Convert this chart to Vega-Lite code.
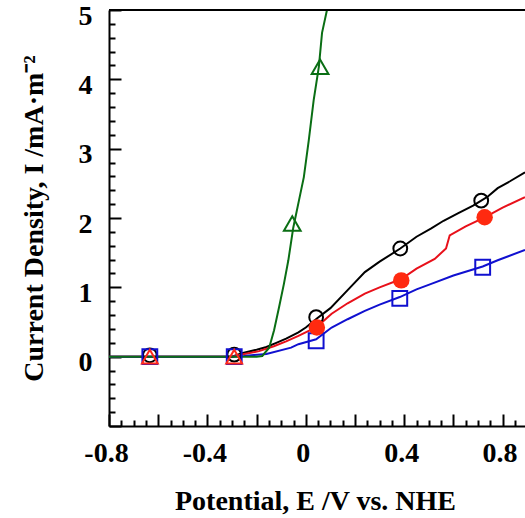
{
  "$schema": "https://vega.github.io/schema/vega-lite/v6.json",
  "width": 416,
  "height": 416,
  "autosize": "none",
  "padding": {"left": 109, "top": 10, "right": 0, "bottom": 92},
  "background": "white",
  "config": {
    "view": {"stroke": null},
    "font": "Liberation Serif",
    "axis": {
      "grid": false, "tickColor": "black", "tickWidth": 2, "domainColor": "black", "domainWidth": 2,
      "labelFont": "Liberation Serif", "labelFontWeight": "bold", "labelFontSize": 28, "labelColor": "black",
      "labelOverlap": false, "labelFlush": false, "labelBound": false, "tickCount": 1000,
      "titleFont": "Liberation Serif", "titleFontWeight": "bold", "titleFontSize": 28, "titleColor": "black"
    }
  },
  "resolve": {"axis": {"x": "independent", "y": "independent"}},
  "datasets": {
    "lines": [
      {"s": "A", "x": -0.8, "y": 0}, {"s": "A", "x": -0.3, "y": 0}, {"s": "A", "x": -0.26, "y": 0.05}, {"s": "A", "x": -0.2, "y": 0.1},
      {"s": "A", "x": -0.16, "y": 0.14}, {"s": "A", "x": -0.12, "y": 0.2}, {"s": "A", "x": -0.08, "y": 0.26}, {"s": "A", "x": -0.03, "y": 0.35},
      {"s": "A", "x": 0, "y": 0.42}, {"s": "A", "x": 0.045, "y": 0.55}, {"s": "A", "x": 0.1, "y": 0.7}, {"s": "A", "x": 0.17, "y": 0.96},
      {"s": "A", "x": 0.24, "y": 1.22}, {"s": "A", "x": 0.3, "y": 1.37}, {"s": "A", "x": 0.384, "y": 1.56}, {"s": "A", "x": 0.45, "y": 1.73},
      {"s": "A", "x": 0.51, "y": 1.85}, {"s": "A", "x": 0.56, "y": 1.96}, {"s": "A", "x": 0.62, "y": 2.07}, {"s": "A", "x": 0.68, "y": 2.18},
      {"s": "A", "x": 0.713, "y": 2.25}, {"s": "A", "x": 0.74, "y": 2.31}, {"s": "A", "x": 0.78, "y": 2.43}, {"s": "A", "x": 0.83, "y": 2.53},
      {"s": "A", "x": 0.891, "y": 2.66},
      {"s": "B", "x": -0.8, "y": 0}, {"s": "B", "x": -0.3, "y": 0}, {"s": "B", "x": -0.26, "y": 0.03}, {"s": "B", "x": -0.19, "y": 0.08},
      {"s": "B", "x": -0.13, "y": 0.15}, {"s": "B", "x": -0.08, "y": 0.22}, {"s": "B", "x": -0.03, "y": 0.3}, {"s": "B", "x": 0.045, "y": 0.43},
      {"s": "B", "x": 0.105, "y": 0.62}, {"s": "B", "x": 0.17, "y": 0.77}, {"s": "B", "x": 0.24, "y": 0.91}, {"s": "B", "x": 0.3, "y": 1.0},
      {"s": "B", "x": 0.388, "y": 1.12}, {"s": "B", "x": 0.45, "y": 1.27}, {"s": "B", "x": 0.524, "y": 1.41}, {"s": "B", "x": 0.57, "y": 1.56},
      {"s": "B", "x": 0.585, "y": 1.75}, {"s": "B", "x": 0.65, "y": 1.88}, {"s": "B", "x": 0.727, "y": 2.01}, {"s": "B", "x": 0.8, "y": 2.15},
      {"s": "B", "x": 0.891, "y": 2.3},
      {"s": "C", "x": -0.8, "y": 0}, {"s": "C", "x": -0.3, "y": 0}, {"s": "C", "x": -0.25, "y": 0.01}, {"s": "C", "x": -0.16, "y": 0.04},
      {"s": "C", "x": -0.06, "y": 0.13}, {"s": "C", "x": -0.03, "y": 0.18}, {"s": "C", "x": 0.042, "y": 0.25}, {"s": "C", "x": 0.105, "y": 0.42},
      {"s": "C", "x": 0.17, "y": 0.54}, {"s": "C", "x": 0.24, "y": 0.66}, {"s": "C", "x": 0.3, "y": 0.75}, {"s": "C", "x": 0.382, "y": 0.86},
      {"s": "C", "x": 0.45, "y": 0.97}, {"s": "C", "x": 0.51, "y": 1.05}, {"s": "C", "x": 0.6, "y": 1.17}, {"s": "C", "x": 0.719, "y": 1.3},
      {"s": "C", "x": 0.78, "y": 1.39}, {"s": "C", "x": 0.891, "y": 1.54},
      {"s": "D", "x": -0.8, "y": 0}, {"s": "D", "x": -0.2, "y": 0}, {"s": "D", "x": -0.177, "y": 0.01}, {"s": "D", "x": -0.149, "y": 0.13},
      {"s": "D", "x": -0.129, "y": 0.38}, {"s": "D", "x": -0.109, "y": 0.71}, {"s": "D", "x": -0.089, "y": 1.05}, {"s": "D", "x": -0.071, "y": 1.39},
      {"s": "D", "x": -0.051, "y": 1.86}, {"s": "D", "x": -0.028, "y": 2.25}, {"s": "D", "x": -0.008, "y": 2.59}, {"s": "D", "x": 0.012, "y": 3.12},
      {"s": "D", "x": 0.032, "y": 3.7}, {"s": "D", "x": 0.053, "y": 4.18}, {"s": "D", "x": 0.066, "y": 4.67}, {"s": "D", "x": 0.086, "y": 5.0},
      {"s": "D", "x": 0.095, "y": 5.2}
    ],
    "open": [
      {"s": "A", "x": -0.634, "y": 0.02}, {"s": "A", "x": -0.291, "y": 0.03}, {"s": "A", "x": 0.042, "y": 0.57}, {"s": "A", "x": 0.384, "y": 1.56}, {"s": "A", "x": 0.713, "y": 2.25},
      {"s": "C", "x": -0.634, "y": 0}, {"s": "C", "x": -0.291, "y": 0}, {"s": "C", "x": 0.042, "y": 0.23}, {"s": "C", "x": 0.382, "y": 0.84}, {"s": "C", "x": 0.719, "y": 1.29},
      {"s": "E", "x": -0.634, "y": 0}, {"s": "E", "x": -0.291, "y": 0},
      {"s": "D", "x": -0.055, "y": 1.92}, {"s": "D", "x": 0.058, "y": 4.18}
    ],
    "filled": [
      {"s": "B", "x": 0.045, "y": 0.42}, {"s": "B", "x": 0.388, "y": 1.1}, {"s": "B", "x": 0.727, "y": 2.01}
    ],
    "frame": [{"t": 5}]
  },
  "layer": [
    {
      "data": {"name": "lines"},
      "mark": {"type": "line", "strokeWidth": 2, "clip": true},
      "encoding": {
        "x": {
          "field": "x", "type": "quantitative",
          "scale": {"domain": [-0.8, 0.891], "nice": false, "zero": false},
          "axis": {
            "orient": "bottom",
            "values": [-0.8, -0.6, -0.4, -0.2, 0, 0.2, 0.4, 0.6, 0.8],
            "tickSize": -12,
            "labelExpr": "abs(datum.value*2.5 - round(datum.value*2.5)) < 0.000001 ? toString(datum.value) : ''",
            "labelPadding": 25, "labelOffset": -3,
            "title": "Potential, E /V vs. NHE",
            "titleBaseline": "alphabetic", "titleX": 206, "titleY": 83, "titleAlign": "center"
          }
        },
        "y": {
          "field": "y", "type": "quantitative",
          "scale": {"domain": [-1, 5], "nice": false, "zero": false},
          "axis": {
            "orient": "left",
            "values": [-1, 0, 1, 2, 3, 4, 5],
            "tickSize": -12,
            "labelExpr": "datum.value > -0.5 ? toString(datum.value) : ''",
            "labelPadding": 29, "labelOffset": 6,
            "title": "Current Density, I /mA·m⁻²",
            "titleBaseline": "alphabetic", "titleX": -67, "titleY": 208, "titleAlign": "center", "titleAngle": 270
          }
        },
        "color": {
          "field": "s", "type": "nominal", "legend": null,
          "scale": {"domain": ["A", "B", "C", "D", "E"], "range": ["#000000", "#e8101a", "#1010d0", "#0a6e14", "#ff2a1a"]}
        }
      }
    },
    {
      "data": {"name": "open"},
      "mark": {"type": "point", "filled": false, "strokeWidth": 2, "opacity": 1, "clip": true},
      "encoding": {
        "x": {"field": "x", "type": "quantitative", "axis": null},
        "y": {"field": "y", "type": "quantitative", "axis": null},
        "color": {"field": "s", "type": "nominal", "legend": null},
        "shape": {"field": "s", "type": "nominal", "legend": null,
          "scale": {"domain": ["A", "C", "E", "D"], "range": ["circle", "square", "triangle-up", "triangle-up"]}},
        "size": {"field": "s", "type": "nominal", "legend": null,
          "scale": {"domain": ["A", "C", "E", "D"], "range": [190, 280, 170, 600]}}
      }
    },
    {
      "data": {"name": "filled"},
      "mark": {"type": "circle", "size": 270, "opacity": 1, "color": "#ff2a10"},
      "encoding": {
        "x": {
          "field": "x", "type": "quantitative",
          "axis": {
            "orient": "bottom",
            "values": [-0.75, -0.7, -0.65, -0.55, -0.5, -0.45, -0.35, -0.3, -0.25, -0.15, -0.1, -0.05, 0.05, 0.1, 0.15, 0.25, 0.3, 0.35, 0.45, 0.5, 0.55, 0.65, 0.7, 0.75, 0.85],
            "tickSize": -6, "labels": false, "domain": false, "title": null
          }
        },
        "y": {
          "field": "y", "type": "quantitative",
          "axis": {
            "orient": "left",
            "values": [-0.8, -0.6, -0.4, -0.2, 0.2, 0.4, 0.6, 0.8, 1.2, 1.4, 1.6, 1.8, 2.2, 2.4, 2.6, 2.8, 3.2, 3.4, 3.6, 3.8, 4.2, 4.4, 4.6, 4.8],
            "tickSize": -6, "labels": false, "domain": false, "title": null
          }
        }
      }
    },
    {
      "data": {"name": "frame"},
      "mark": {"type": "rule", "strokeWidth": 2, "color": "black"},
      "encoding": {
        "y": {"field": "t", "type": "quantitative", "axis": null}
      }
    }
  ]
}
